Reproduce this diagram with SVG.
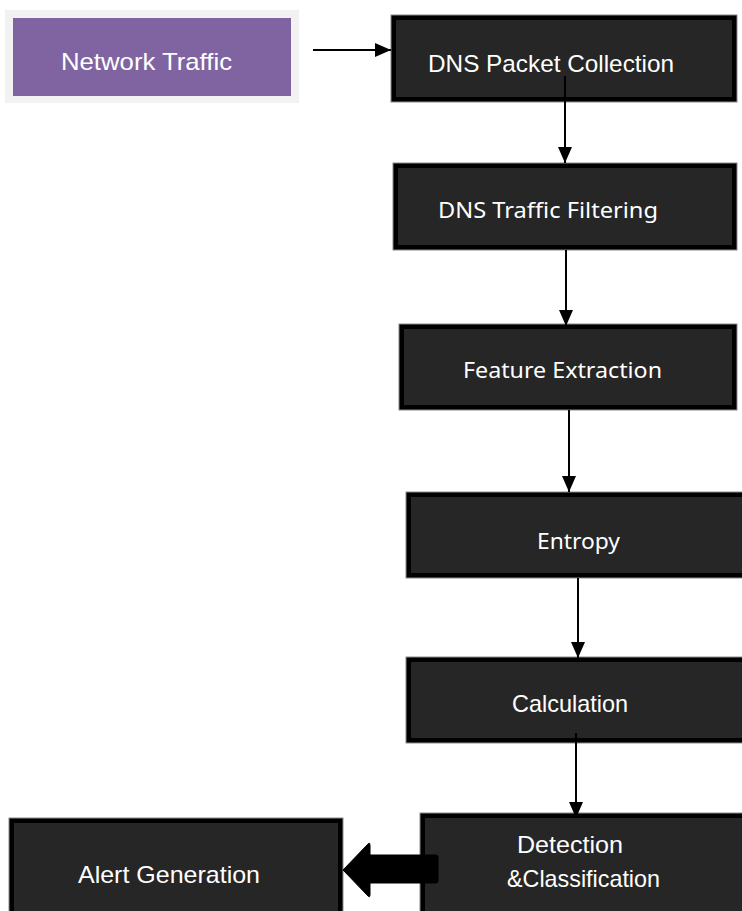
<svg xmlns="http://www.w3.org/2000/svg" width="742" height="911" viewBox="0 0 742 911">
<style>
.bo{fill:#000;stroke:#8a8a8a;stroke-width:1}
.bi{fill:#262626}
.t1{font-family:"Liberation Sans",Arial,sans-serif;font-size:24px;fill:#fff}
.t2{font-family:"Noto Sans","Open Sans",sans-serif;font-size:22px;fill:#fff}
.ln{stroke:#000;stroke-width:2;fill:none}
</style>
<defs>
<marker id="ah" viewBox="0 0 16 14" refX="16" refY="7" markerWidth="16" markerHeight="14" markerUnits="userSpaceOnUse" orient="auto">
<path d="M0,0 L16,7 L0,14 Z" fill="#000"/>
</marker>
</defs>
<rect width="742" height="911" fill="#fff"/>

<g id="network-traffic">
<rect x="5" y="10" width="294" height="93" fill="#f2f2f2"/>
<rect x="13" y="18" width="278" height="78" fill="#8064a2"/>
<text class="t1" x="61" y="70" textLength="171" lengthAdjust="spacingAndGlyphs">Network Traffic</text>
</g>

<g id="dns-packet-collection">
<rect class="bo" x="391" y="15" width="346" height="87"/>
<rect class="bi" x="396" y="20" width="336" height="77"/>
<text class="t1" x="428" y="72" textLength="246" lengthAdjust="spacingAndGlyphs">DNS Packet Collection</text>
</g>

<g id="dns-traffic-filtering">
<rect class="bo" x="393" y="163" width="344" height="87"/>
<rect class="bi" x="398" y="168" width="334" height="77"/>
<text class="t2" x="438" y="218" textLength="220" lengthAdjust="spacingAndGlyphs">DNS Traffic Filtering</text>
</g>

<g id="feature-extraction">
<rect class="bo" x="399" y="324" width="338" height="86"/>
<rect class="bi" x="404" y="329" width="328" height="76"/>
<text class="t2" x="463" y="378" textLength="199" lengthAdjust="spacingAndGlyphs">Feature Extraction</text>
</g>

<g id="entropy">
<rect class="bo" x="406" y="492" width="340" height="86"/>
<rect class="bi" x="411" y="497" width="336" height="76"/>
<text class="t2" x="537" y="549" textLength="83" lengthAdjust="spacingAndGlyphs">Entropy</text>
</g>

<g id="calculation">
<rect class="bo" x="406" y="657" width="340" height="86"/>
<rect class="bi" x="411" y="662" width="336" height="76"/>
<text class="t1" x="512" y="712" textLength="116" lengthAdjust="spacingAndGlyphs">Calculation</text>
</g>

<g id="detection-classification">
<rect class="bo" x="420" y="813" width="326" height="104"/>
<rect class="bi" x="425" y="818" width="322" height="100"/>
<text class="t1" x="517" y="853" textLength="106" lengthAdjust="spacingAndGlyphs">Detection</text>
<text class="t1" x="507" y="887" textLength="153" lengthAdjust="spacingAndGlyphs">&amp;Classification</text>
</g>

<g id="alert-generation">
<rect class="bo" x="9" y="818" width="334" height="100"/>
<rect class="bi" x="14" y="823" width="324" height="96"/>
<text class="t1" x="78" y="883" textLength="182" lengthAdjust="spacingAndGlyphs">Alert Generation</text>
</g>

<g id="connectors">
<line class="ln" x1="313" y1="50" x2="391" y2="50" marker-end="url(#ah)"/>
<line class="ln" x1="565" y1="76" x2="565" y2="163" marker-end="url(#ah)"/>
<line class="ln" x1="566" y1="250" x2="566" y2="326" marker-end="url(#ah)"/>
<line class="ln" x1="569" y1="410" x2="569" y2="492" marker-end="url(#ah)"/>
<line class="ln" x1="578" y1="578" x2="578" y2="658" marker-end="url(#ah)"/>
<line class="ln" x1="576" y1="733" x2="576" y2="818" marker-end="url(#ah)"/>
<path d="M436,855 Q438,855 438,857 L438,881 Q438,883 436,883 L370,883 L370,895 Q370,898 368,896 L343,870 L368,844 Q370,842 370,845 L370,855 Z" fill="#000" stroke="#000" stroke-width="1" stroke-linejoin="round"/>
</g>
</svg>
